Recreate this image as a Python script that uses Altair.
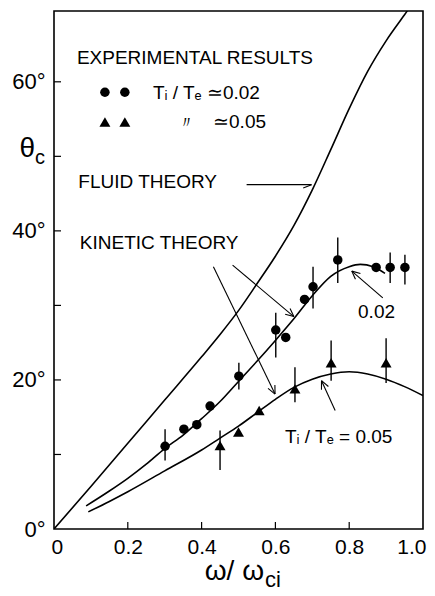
import math
import altair as alt
import pandas as pd

# ---------------- data ----------------
fluid_x = [0, 0.1, 0.2, 0.3, 0.4, 0.45, 0.5, 0.55, 0.6, 0.65, 0.7, 0.75, 0.8, 0.85, 0.9, 0.95, 0.96]
fluid_y = [0, 5.7, 11.5, 17.3, 23.1, 26.1, 29.3, 32.9, 36.6, 40.7, 45.5, 50.9, 56.4, 61.4, 65.5, 69.0, 69.7]

kin02_x = [0.087, 0.15, 0.2, 0.25, 0.3, 0.35, 0.4, 0.45, 0.5, 0.55, 0.6, 0.65, 0.7, 0.75, 0.8, 0.83, 0.865, 0.897]
kin02_y = [3.1, 5.1, 6.8, 8.7, 10.8, 12.6, 14.8, 17.1, 19.8, 22.5, 25.3, 28.2, 31.3, 33.9, 35.2, 35.5, 35.2, 34.3]

kin05_x = [0.093, 0.15, 0.2, 0.3, 0.4, 0.45, 0.5, 0.55, 0.6, 0.65, 0.7, 0.75, 0.8, 0.85, 0.9, 0.95, 1.0]
kin05_y = [2.3, 3.7, 5.0, 7.8, 10.6, 12.2, 13.8, 15.6, 17.4, 19.0, 20.1, 20.8, 21.1, 20.8, 20.1, 19.1, 17.9]

circ_x = [0.301, 0.352, 0.387, 0.423, 0.501, 0.601, 0.628, 0.679, 0.702, 0.769, 0.873, 0.911, 0.951]
circ_y = [11.1, 13.4, 14.0, 16.5, 20.5, 26.7, 25.7, 30.8, 32.5, 36.1, 35.1, 35.1, 35.1]
circ_lo = [9.2, None, None, None, 18.7, 23.0, None, None, 29.6, 33.0, None, 33.0, 32.8]
circ_hi = [13.4, None, None, None, 22.3, 29.0, None, None, 35.2, 39.1, None, 37.1, 36.8]

tri_x = [0.450, 0.500, 0.556, 0.653, 0.751, 0.900]
tri_y = [11.2, 13.0, 15.9, 18.8, 22.3, 22.3]
tri_lo = [7.9, None, None, 17.0, 19.9, 19.6]
tri_hi = [13.2, None, None, 21.7, 25.3, 25.6]

y_tick_values = [10, 20, 30, 40, 50, 60]
y_label_values = [0, 20, 40, 60]
x_tick_values = [0.2, 0.4, 0.6, 0.8]
x_label_values = [0, 0.2, 0.4, 0.6, 0.8, 1.0]

# legend / annotation text (data coordinates)
ann_text = ["EXPERIMENTAL RESULTS", "Tᵢ / Tₑ ≃0.02", "≃0.05", "FLUID THEORY",
            "KINETIC THEORY", "0.02", "Tᵢ / Tₑ = 0.05"]
ann_x = [0.062, 0.268, 0.431, 0.066, 0.070, 0.824, 0.626]
ann_y = [63.2, 58.5, 54.6, 46.6, 38.4, 29.1, 12.3]

leg_circ_x = [0.138, 0.192]
leg_circ_y = [58.6, 58.6]
leg_tri_x = [0.138, 0.192]
leg_tri_y = [54.6, 54.6]

# arrows: start (x, y) -> tip (x, y), number of barbs
arrow_x1 = [0.522, 0.432, 0.484, 0.891, 0.762]
arrow_y1 = [46.2, 35.2, 35.4, 31.0, 15.9]
arrow_x2 = [0.698, 0.599, 0.650, 0.807, 0.725]
arrow_y2 = [46.2, 18.1, 28.5, 34.6, 19.9]
arrow_barbs = [1, 2, 2, 2, 2]

# ---------------- geometry ----------------
W, H = 369, 518
XD, YD = [0, 1], [0, 69.5]
SX = W / (XD[1] - XD[0])
SY = H / (YD[1] - YD[0])
FONT = "Liberation Sans"

xs = alt.Scale(domain=XD, nice=False, zero=False)
ys = alt.Scale(domain=YD, nice=False, zero=False)

x_axis = alt.Axis(values=x_label_values, ticks=False, domain=False, grid=False,
                  labelFontSize=21, labelFont=FONT, labelColor="black", labelPadding=7,
                  labelFlush=True, labelFlushOffset=3,
                  labelExpr="datum.value == 0 ? '0' : format(datum.value, '.1f')")
y_axis = alt.Axis(values=y_label_values, ticks=False, domain=False, grid=False,
                  labelFontSize=22, labelFont=FONT, labelColor="black", labelPadding=9,
                  labelFlush=False,
                  labelExpr="datum.value + '°'")


def X(field="x"):
    return alt.X(f"{field}:Q", scale=xs, axis=x_axis, title=None)


def Y(field="y"):
    return alt.Y(f"{field}:Q", scale=ys, axis=y_axis, title=None)


# arrow segments
segs = []
for x1, y1, x2, y2, nb in zip(arrow_x1, arrow_y1, arrow_x2, arrow_y2, arrow_barbs):
    segs.append(dict(x=x1, y=y1, x2=x2, y2=y2))
    dx, dy = (x1 - x2) * SX, (y1 - y2) * SY
    n = math.hypot(dx, dy)
    ux, uy = dx / n, dy / n
    angles = [22] if nb == 1 else [25, -25]
    for a in angles:
        r = math.radians(a)
        bx = ux * math.cos(r) - uy * math.sin(r)
        by = ux * math.sin(r) + uy * math.cos(r)
        segs.append(dict(x=x2, y=y2, x2=x2 + bx * 9 / SX, y2=y2 + by * 9 / SY))
seg_df = pd.DataFrame(segs)

fluid_df = pd.DataFrame({"x": fluid_x, "y": fluid_y})
k02_df = pd.DataFrame({"x": kin02_x, "y": kin02_y})
k05_df = pd.DataFrame({"x": kin05_x, "y": kin05_y})
circ_df = pd.DataFrame({"x": circ_x, "y": circ_y, "lo": circ_lo, "hi": circ_hi})
tri_df = pd.DataFrame({"x": tri_x, "y": tri_y, "lo": tri_lo, "hi": tri_hi})
err_df = pd.concat([circ_df, tri_df]).dropna()
ann_df = pd.DataFrame({"x": ann_x, "y": ann_y, "t": ann_text})

base_line = dict(color="black", strokeWidth=1.6, clip=True, interpolate="monotone")

fluid = alt.Chart(fluid_df).mark_line(**base_line).encode(x=X(), y=Y())
k02 = alt.Chart(k02_df).mark_line(**base_line).encode(x=X(), y=Y())
k05 = alt.Chart(k05_df).mark_line(**base_line).encode(x=X(), y=Y())

err = alt.Chart(err_df).mark_rule(color="black", strokeWidth=1.4).encode(
    x=X(), y=Y("lo"), y2="hi")
circles = alt.Chart(circ_df).mark_point(shape="circle", filled=True, color="black",
                                         size=90, opacity=1).encode(x=X(), y=Y())
tris = alt.Chart(tri_df).mark_point(shape="triangle-up", filled=True, color="black",
                                     size=120, opacity=1).encode(x=X(), y=Y())

leg_c = alt.Chart(pd.DataFrame({"x": leg_circ_x, "y": leg_circ_y})).mark_point(
    shape="circle", filled=True, color="black", size=90, opacity=1).encode(x=X(), y=Y())
leg_t = alt.Chart(pd.DataFrame({"x": leg_tri_x, "y": leg_tri_y})).mark_point(
    shape="triangle-up", filled=True, color="black", size=120, opacity=1).encode(x=X(), y=Y())

arrows = alt.Chart(seg_df).mark_rule(color="black", strokeWidth=1.1).encode(
    x=X(), y=Y(), x2="x2", y2="y2")

ann = alt.Chart(ann_df).mark_text(align="left", baseline="middle", font=FONT,
                                  fontSize=19, color="black").encode(x=X(), y=Y(), text="t:N")
ditto = alt.Chart(pd.DataFrame({"x": [0.36], "y": [54.5], "t": ["〃"]})).mark_text(
    align="center", baseline="middle", fontSize=17, color="black").encode(x=X(), y=Y(), text="t:N")

yt = alt.Chart(pd.DataFrame({"v": y_tick_values})).mark_rule(color="black", strokeWidth=1.2).encode(
    y=Y("v"), x=alt.value(0), x2=alt.value(7))
xt = alt.Chart(pd.DataFrame({"v": x_tick_values})).mark_rule(color="black", strokeWidth=1.2).encode(
    x=X("v"), y=alt.value(H), y2=alt.value(H - 7))

frame = alt.Chart(pd.DataFrame({"a": [0]})).mark_rect(
    fill=None, fillOpacity=0, stroke="black", strokeWidth=1.6).encode(
    x=alt.value(0), x2=alt.value(W), y=alt.value(0), y2=alt.value(H))

# axis titles as text
theta = alt.Chart(pd.DataFrame({"t": ["θ"]})).mark_text(
    align="right", baseline="middle", font=FONT, fontSize=28, color="black").encode(
    text="t:N", x=alt.value(-19), y=alt.value(138))
theta_c = alt.Chart(pd.DataFrame({"t": ["c"]})).mark_text(
    align="left", baseline="middle", font=FONT, fontSize=20, color="black").encode(
    text="t:N", x=alt.value(-19), y=alt.value(147))
omega = alt.Chart(pd.DataFrame({"t": ["ω/ ω"]})).mark_text(
    align="right", baseline="alphabetic", font=FONT, fontSize=28, color="black").encode(
    text="t:N", x=alt.value(210), y=alt.value(569))
omega_ci = alt.Chart(pd.DataFrame({"t": ["ci"]})).mark_text(
    align="left", baseline="alphabetic", font=FONT, fontSize=22, color="black").encode(
    text="t:N", x=alt.value(211), y=alt.value(576))

chart = alt.layer(
    frame, fluid, k02, k05, err, circles, tris, leg_c, leg_t, arrows, ann, ditto, yt, xt,
    theta, theta_c, omega, omega_ci
).properties(
    width=W, height=H,
    background="white",
    autosize=alt.AutoSizeParams(type="none"),
    padding={"left": 46, "top": 3, "right": 4, "bottom": 68},
).configure_view(stroke=None)

chart.save("out.html", embed_options={"renderer": "svg", "actions": False})
